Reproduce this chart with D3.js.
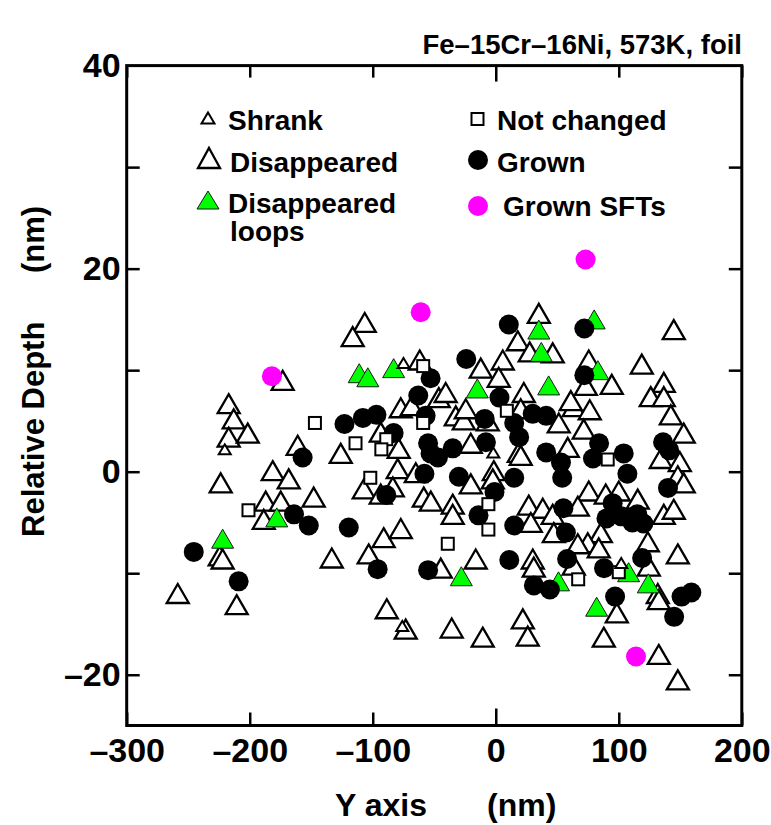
<!DOCTYPE html>
<html>
<head>
<meta charset="utf-8">
<script src="https://cdn.jsdelivr.net/npm/d3@7"></script>
<style>
body { margin: 0; background: #fff; }
svg text { font-family: "Liberation Sans", Arial, Helvetica, sans-serif; font-weight: bold; fill: #000; }
</style>
</head>
<body>
<svg id="chart" width="771" height="825"></svg>
<script>
/******** Data ********/
// every point is [Y axis (nm), Relative Depth (nm)]
var disappeared = [
  [-106.5,14.7],[-116.3,13.3],[-173.2,9.0],[-217.1,6.7],[-213.0,5.2],[-217.1,3.4],[-201.6,3.8],[-161.0,2.6],
  [-181.3,0.1],[-168.3,-0.7],[-223.6,-1.1],[-126.0,1.8],[-61.8,11.0],[-77.2,6.3],[-68.3,6.5],[-93.5,3.9],
  [-78.9,2.3],[-79.7,0.3],[-107.3,-1.7],[-93.5,-2.2],[-83.7,-1.5],[-65.0,-0.1],[-58.5,-2.5],[-46.3,7.3],
  [-187.0,-2.9],[-174.8,-2.9],[-148.0,-2.5],[-188.6,-4.7],[-224.4,-8.3],[-222.0,-8.6],[-258.5,-12.0],[-210.6,-13.1],
  [-133.3,-8.5],[-103.3,-8.1],[-91.1,-6.5],[-77.2,-5.6],[-88.6,-13.5],[-73.2,-15.5],[-44.7,-9.5],
  [35.0,15.6],[17.9,12.9],[27.6,11.8],[5.7,11.0],[-12.2,10.2],[2.4,9.3],[-40.7,7.8],[22.8,7.8],[20.3,6.2],
  [-32.5,5.5],[-26.0,5.1],[-24.4,6.2],[-6.5,5.0],[-20.3,2.8],[18.7,1.9],[-35.0,-3.2],[-35.0,-4.2],[-52.8,-2.9],
  [-16.3,-8.6],[-35.8,-15.4],[-10.6,-16.3],[22.0,-14.5],[26.0,-16.2],[26.8,-3.3],[38.2,-3.6],[28.5,-5.0],
  [30.1,-8.6],[30.9,-9.4],[-20.3,-1.2],[-1.6,0.1],[-2.4,-0.7],[20.3,1.6],
  [46.3,11.7],[144.7,14.0],[75.6,11.0],[73.2,8.5],[94.3,8.6],[118.7,10.6],[136.6,8.8],[126.0,7.4],[136.6,7.4],
  [63.4,6.4],[76.4,6.1],[61.0,7.0],[142.3,5.6],[152.8,3.8],[51.2,4.8],[71.5,4.2],[58.5,2.4],[134.1,1.3],
  [149.6,1.0],[148.0,-0.4],[152.8,-1.1],[75.6,-1.9],[89.4,-2.2],[100.0,-1.9],[115.4,-2.7],[136.6,-4.2],
  [144.7,-3.7],[66.7,-3.4],[46.3,-4.2],[47.2,-6.0],[85.4,-6.0],[74.8,-7.0],[83.7,-7.5],[66.7,-7.1],
  [123.6,-6.9],[148.0,-8.1],[124.4,-9.3],[63.4,-9.2],[131.7,-12.0],[132.5,-12.6],[98.4,-13.9],[87.8,-16.3],
  [132.5,-18.0],[148.0,-20.5]
];

var shrank = [[-220.3,2.2],[-75.0,10.7],[-2.0,1.9],[102.0,-9.0],[-76.0,-15.2]];

var disappearedLoops = [
  [-222,-6.6],[-178,-4.5],[-111,9.7],[-104,9.3],[-83,10.2],[-15,8.2],[-28,-10.3],[35,14.0],
  [37,11.8],[43,8.5],[80,15.0],[83,10.0],[51,-10.8],[82,-13.3],[108,-9.9],[124,-11.0]
];

var notChanged = [
  [-201,-3.8],[-147,4.8],[-114,2.8],[-89,3.2],[-93,2.2],[-102,-0.6],[-59,10.4],[-59,4.8],
  [9,6.0],[91,1.2],[-6,-3.2],[-6,-5.7],[-39,-7.1],[67,-10.6],[100,-9.9]
];

var grown = [
  [-245.5,-7.9],[-209,-10.8],[-164,-4.2],[-152,-5.3],[-119.5,-5.5],[-157,1.4],[-123,4.7],[-108,5.3],
  [-97,5.6],[-83,3.8],[-89,-2.3],[-96,-9.6],[-53,9.2],[-63,7.5],[-57,5.5],[-55,2.8],[-53,1.8],[-58,-0.2],
  [-55,-9.7],[-24,11.1],[10.6,14.5],[-9,5.2],[3,7.3],[15,4.8],[19,3.4],[30,5.7],[41,5.5],[-8,2.9],
  [-35,2.3],[-47,1.4],[-30,-0.5],[15,-0.6],[-1,-2.0],[-14,-4.3],[15,-5.3],[11,-8.7],[31,-11.2],[44,-11.6],
  [41,1.9],[53,0.9],[54,-0.6],[72,14.1],[72,9.5],[84,2.8],[79,1.3],[104,1.8],[107,-0.2],[136,2.9],
  [141,2.1],[140,-1.6],[55,-3.6],[95,-3.1],[90,-4.6],[102,-4.4],[115,-4.2],[120,-5.1],[111,-5.0],
  [57,-6.0],[58,-8.6],[88,-9.5],[119,-8.5],[97,-12.3],[151,-12.3],[159,-11.9],[145,-14.3]
];

var grownSFTs = [[-182,9.4],[-61,15.7],[73,20.9],[114,-18.2]];

var xTickValues = [-300, -200, -100, 0, 100, 200];
var yLabelValues = [-20, 0, 20, 40];
var yTickValues = [-20, -10, 0, 10, 20, 30];

/******** Scales ********/
var x = d3.scaleLinear().domain([-300, 200]).range([126.7, 741.8]);
var y = d3.scaleLinear().domain([-25, 40]).range([725.5, 65.6]);

var svg = d3.select("#chart");

function fmt(d) {
  // the figure uses an en dash for negative numbers
  return d < 0 ? "\u2013" + Math.abs(d) : String(d);
}

// triangle centred on its bounding box
function triangle(w, h) {
  return "M0," + (-h / 2) + "L" + (w / 2) + "," + (h / 2) + "L" + (-w / 2) + "," + (h / 2) + "Z";
}

/******** Axes ********/
var xAxisBottom = svg.append("g")
  .attr("transform", "translate(0," + y(-25) + ")")
  .call(d3.axisBottom(x).tickValues(xTickValues).tickSizeInner(-13).tickSizeOuter(0).tickPadding(12).tickFormat(fmt));
xAxisBottom.selectAll(".tick line").attr("y2", d => d === 0 ? -17 : -13);

var xAxisTop = svg.append("g")
  .attr("transform", "translate(0," + y(40) + ")")
  .call(d3.axisTop(x).tickValues(xTickValues).tickSizeInner(-12).tickSizeOuter(0).tickFormat(""));
xAxisTop.selectAll(".tick line").attr("y2", d => d === 0 ? 16 : 12);

var yAxisLeft = svg.append("g")
  .attr("transform", "translate(" + x(-300) + ",0)")
  .call(d3.axisLeft(y).tickValues(yTickValues).tickSizeInner(-13).tickSizeOuter(0).tickFormat(""));

var yAxisLabels = svg.append("g")
  .attr("transform", "translate(" + x(-300) + ",0)")
  .call(d3.axisLeft(y).tickValues(yLabelValues).tickSize(0).tickPadding(6).tickFormat(fmt));

var yAxisRight = svg.append("g")
  .attr("transform", "translate(" + x(200) + ",0)")
  .call(d3.axisRight(y).tickValues(yTickValues).tickSizeInner(-13).tickSizeOuter(0).tickFormat(""));

svg.selectAll(".domain").remove();
svg.selectAll(".tick line").attr("stroke", "#000").attr("stroke-width", 2.5);

xAxisBottom.selectAll("text").attr("font-size", 34).attr("font-family", null);
yAxisLabels.selectAll("text").attr("font-size", 34).attr("font-family", null);

// frame
svg.append("rect")
  .attr("x", x(-300)).attr("y", y(40))
  .attr("width", x(200) - x(-300)).attr("height", y(-25) - y(40))
  .attr("fill", "none").attr("stroke", "#000").attr("stroke-width", 3);

/******** Points ********/
var plot = svg.append("g");

function drawTriangles(pts, w, h, fill, stroke, sw) {
  plot.append("g").selectAll("path").data(pts).enter().append("path")
    .attr("d", triangle(w, h))
    .attr("transform", d => "translate(" + x(d[0]) + "," + y(d[1]) + ")")
    .attr("fill", fill).attr("stroke", stroke).attr("stroke-width", sw)
    .attr("stroke-linejoin", "miter");
}

function drawCircles(pts, r, fill) {
  plot.append("g").selectAll("circle").data(pts).enter().append("circle")
    .attr("cx", d => x(d[0])).attr("cy", d => y(d[1])).attr("r", r)
    .attr("fill", fill);
}

function drawSquares(pts, s) {
  plot.append("g").selectAll("rect").data(pts).enter().append("rect")
    .attr("x", d => x(d[0]) - s / 2).attr("y", d => y(d[1]) - s / 2)
    .attr("width", s).attr("height", s)
    .attr("fill", "#fff").attr("stroke", "#000").attr("stroke-width", 2);
}

drawTriangles(disappeared, 22, 19, "#fff", "#000", 2.3);
drawTriangles(disappearedLoops, 22, 19, "#00ff00", "#1a1a1a", 1);
drawCircles(grown, 10, "#000");
drawSquares(notChanged, 12);
drawTriangles(shrank, 12, 10, "#fff", "#000", 2);
drawCircles(grownSFTs, 10, "#ff00ff");

/******** Legend ********/
var legend = svg.append("g");
var legendItems = [
  { label: ["Shrank"], kind: "small", mx: 208, my: 118, tx: 228, ty: 130 },
  { label: ["Disappeared"], kind: "big", mx: 209, my: 158, tx: 230, ty: 172 },
  { label: ["Disappeared", "loops"], kind: "green", mx: 208, my: 200, tx: 228, ty: 213 },
  { label: ["Not changed"], kind: "square", mx: 477.5, my: 119, tx: 497, ty: 130 },
  { label: ["Grown"], kind: "grown", mx: 478, my: 160, tx: 497, ty: 172 },
  { label: ["Grown SFTs"], kind: "sft", mx: 478, my: 206, tx: 503, ty: 216 }
];

legendItems.forEach(function (d) {
  var m = legend.append("g").attr("transform", "translate(" + d.mx + "," + d.my + ")");
  if (d.kind === "small") m.append("path").attr("d", triangle(13, 11)).attr("fill", "#fff").attr("stroke", "#000").attr("stroke-width", 2);
  if (d.kind === "big") m.append("path").attr("d", triangle(22, 20)).attr("fill", "#fff").attr("stroke", "#000").attr("stroke-width", 2.3);
  if (d.kind === "green") m.append("path").attr("d", triangle(22, 18)).attr("fill", "#00ff00").attr("stroke", "#1a1a1a").attr("stroke-width", 1);
  if (d.kind === "square") m.append("rect").attr("x", -6).attr("y", -6).attr("width", 12).attr("height", 12).attr("fill", "#fff").attr("stroke", "#000").attr("stroke-width", 2);
  if (d.kind === "grown") m.append("circle").attr("r", 10).attr("fill", "#000");
  if (d.kind === "sft") m.append("circle").attr("r", 10).attr("fill", "#ff00ff");
  var t = legend.append("text").attr("x", d.tx).attr("y", d.ty).attr("font-size", 28);
  d.label.forEach(function (line, i) {
    t.append("tspan").attr("x", d.tx + (i > 0 ? 2 : 0)).attr("dy", i > 0 ? 28 : 0).text(line);
  });
});

/******** Titles ********/
svg.append("text")
  .attr("x", 742).attr("y", 54)
  .attr("text-anchor", "end").attr("font-size", 27.5)
  .text("Fe\u201315Cr\u201316Ni, 573K, foil");

svg.append("text").attr("x", 335).attr("y", 816).attr("font-size", 32).text("Y axis");
svg.append("text").attr("x", 487).attr("y", 816).attr("font-size", 32).text("(nm)");

svg.append("text")
  .attr("transform", "translate(44,537) rotate(-90)")
  .attr("font-size", 31).text("Relative Depth");
svg.append("text")
  .attr("transform", "translate(44,273) rotate(-90)")
  .attr("font-size", 31).text("(nm)");
</script>
</body>
</html>
